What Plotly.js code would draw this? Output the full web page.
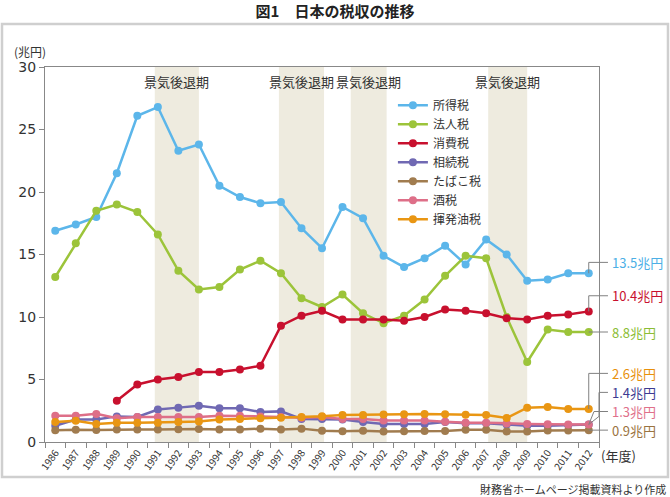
<!DOCTYPE html>
<html>
<head>
<meta charset="utf-8">
<script src="https://cdn.plot.ly/plotly-3.0.1.min.js"></script>
<style>
  html, body { margin: 0; padding: 0; background: #fff; }
  #graph1 { width: 670px; height: 497px; }
</style>
</head>
<body>
<div id="graph1"></div>
<script>
// 年度
let years = [1986,1987,1988,1989,1990,1991,1992,1993,1994,1995,1996,1997,1998,1999,
             2000,2001,2002,2003,2004,2005,2006,2007,2008,2009,2010,2011,2012]

// 兆円
let incomeTax = [16.9,17.4,18.0,21.5,26.1,26.8,23.3,23.8,20.5,19.6,19.1,19.2,17.1,15.5,
                 18.8,17.9,14.9,14.0,14.7,15.7,14.2,16.2,15.0,12.9,13.0,13.5,13.5]
let corporateTax = [13.2,15.9,18.5,19.0,18.4,16.6,13.7,12.2,12.4,13.8,14.5,13.5,11.5,10.8,
                    11.8,10.3,9.5,10.1,11.4,13.3,14.9,14.7,10.0,6.4,9.0,8.8,8.8]
let consumptionTax = [null,null,null,3.3,4.6,5.0,5.2,5.6,5.6,5.8,6.1,9.3,10.1,10.5,
                      9.8,9.8,9.8,9.7,10.0,10.6,10.5,10.3,9.9,9.8,10.1,10.2,10.45]
let inheritanceTax = [1.3,1.8,1.8,2.05,2.0,2.6,2.75,2.9,2.7,2.7,2.4,2.45,1.85,1.85,
                      1.8,1.6,1.45,1.45,1.45,1.6,1.5,1.5,1.4,1.3,1.3,1.35,1.4]
let tobaccoTax = [0.94,0.99,0.96,1.0,1.0,1.0,1.02,1.05,1.0,1.0,1.07,1.0,1.07,0.9,
                  0.86,0.9,0.85,0.86,0.88,0.88,0.98,0.98,0.85,0.85,0.93,0.93,0.95]
let liquorTax = [2.1,2.1,2.25,1.9,2.0,2.0,2.0,2.0,2.1,2.1,2.05,2.0,1.95,2.0,
                 1.85,1.85,1.72,1.72,1.72,1.62,1.55,1.55,1.48,1.45,1.42,1.4,1.4]
let gasolineTax = [1.6,1.7,1.45,1.55,1.55,1.55,1.6,1.65,1.8,1.85,1.9,1.95,2.0,2.07,
                   2.17,2.17,2.2,2.23,2.24,2.23,2.18,2.16,1.92,2.75,2.8,2.64,2.64]

let seriesNames = ['所得税','法人税','消費税','相続税','たばこ税','酒税','揮発油税']
let seriesValues = [incomeTax, corporateTax, consumptionTax, inheritanceTax, tobaccoTax, liquorTax, gasolineTax]

// 2012年度の値ラベル
let endLabels = ['13.5兆円','8.8兆円','10.4兆円','1.4兆円','0.9兆円','1.3兆円','2.6兆円']

// 景気後退期（年度、帯の端）
let recessions = [[1990.85,1993.0],[1996.9,1999.1],[2000.4,2002.15],[2007.1,2009.0]]

main()

function main() {
    let colors = ['#5cb6ea','#9cc43a','#c8102e','#7069b3','#a17c4f','#de6f88','#e99613']
    let labelColors = ['#4cafe6','#8cbd35','#c8102e','#3d3a92','#9a7340','#e0708a','#e8900c']
    // ラベルの高さ（y値）、null は点の高さのまま
    let labelY = [14.37, null, 11.7, 3.97, null, 2.44, 5.49]
    let cjk = '"Noto Sans CJK JP", "Noto Sans", sans-serif'
    let cats = years.map(String)
    let n = years.length

    let data = seriesValues.map((vals, i) => ({
        x: cats,
        y: vals,
        type: 'scatter',
        mode: 'lines+markers',
        name: seriesNames[i],
        line: {color: colors[i], width: 2.5},
        marker: {color: colors[i], size: 8},
        connectgaps: false
    }))

    // 帯と外枠
    let shapes = recessions.map(r => ({
        type: 'rect', xref: 'x', yref: 'paper', layer: 'below',
        x0: r[0] - years[0], x1: r[1] - years[0], y0: 0, y1: 1,
        fillcolor: '#eeebdf', line: {width: 0}
    }))
    shapes.push({
        type: 'rect', xref: 'paper', yref: 'paper',
        x0: -0.0776, x1: 1.1245, y0: -0.093, y1: 1.1147,
        line: {color: '#cfcfcf', width: 2.5}, layer: 'below'
    })

    // 引き出し線とラベル
    let last = n - 1
    let px = (last + 0.5) / n
    let annotations = []
    seriesValues.forEach((vals, i) => {
        let v = vals[last]
        let path
        let ty = labelY[i]
        if (ty === null) {
            ty = v
            path = `M${px},${v} L1.0162,${v}`
        } else if (i === 3) {
            path = `M${px},${v} L1.0,2.05 L1.0,${ty} L1.0162,${ty}`
        } else if (i === 5) {
            path = `M${px},${v} L0.991,${ty} L1.0162,${ty}`
        } else {
            path = `M${px},${v} L${px},${ty} L1.0162,${ty}`
        }
        shapes.push({type: 'path', xref: 'paper', yref: 'y', path: path,
                     line: {color: '#808080', width: 1}})
        annotations.push({
            xref: 'paper', yref: 'y', x: 1.02, y: ty, xanchor: 'left', yanchor: 'middle',
            text: endLabels[i], showarrow: false,
            font: {family: cjk, size: 13, color: labelColors[i]}
        })
    })

    recessions.forEach(r => {
        annotations.push({
            xref: 'x', yref: 'paper', x: (r[0] + r[1]) / 2 - years[0], y: 0.961,
            text: '景気後退期', showarrow: false, xanchor: 'center', yanchor: 'middle',
            font: {family: cjk, size: 13, color: '#333'}
        })
    })

    annotations.push({xref: 'paper', yref: 'paper', x: -0.027, y: 1.04, text: '(兆円)',
        xanchor: 'center', yanchor: 'middle',
        showarrow: false, font: {family: cjk, size: 12, color: '#333'}})
    annotations.push({xref: 'paper', yref: 'paper', x: 1.036, y: -0.037, text: '(年度)',
        xanchor: 'center', yanchor: 'middle',
        showarrow: false, font: {family: cjk, size: 13, color: '#333'}})
    annotations.push({xref: 'paper', yref: 'paper', x: 1.1245, y: -0.125,
        xanchor: 'right', yanchor: 'middle',
        text: '財務省ホームページ掲載資料より作成',
        showarrow: false, font: {family: cjk, size: 11, color: '#333'}})

    let layout = {
        width: 670,
        height: 497,
        margin: {l: 45, r: 71, t: 67, b: 55},
        paper_bgcolor: '#fff',
        plot_bgcolor: '#fff',
        font: {family: cjk, color: '#333'},
        title: {
            text: '<b>図1　日本の税収の推移</b>',
            font: {family: cjk, size: 15, color: '#222'},
            x: 0.5, xanchor: 'center', y: 0.976, yanchor: 'middle'
        },
        xaxis: {
            type: 'category',
            range: [-0.5, n - 0.5],
            tickson: 'boundaries',
            ticks: 'outside', ticklen: 5, tickcolor: '#888',
            tickangle: -55,
            tickfont: {family: cjk, size: 10, color: '#333'},
            showline: true, linecolor: '#888', mirror: true,
            showgrid: false, zeroline: false
        },
        yaxis: {
            range: [0, 30], dtick: 5,
            ticks: 'outside', ticklen: 5, tickcolor: '#888',
            tickfont: {family: '"DejaVu Sans", sans-serif', size: 14, color: '#333'},
            showline: true, linecolor: '#888', mirror: true,
            showgrid: false, zeroline: false
        },
        showlegend: true,
        legend: {
            x: 0.628, y: 0.937, xanchor: 'left', yanchor: 'top',
            bgcolor: 'rgba(0,0,0,0)',
            font: {family: cjk, size: 12, color: '#333'},
            traceorder: 'normal'
        },
        shapes: shapes,
        annotations: annotations
    }

    Plotly.newPlot('graph1', data, layout, {displayModeBar: false})
}
</script>
</body>
</html>
